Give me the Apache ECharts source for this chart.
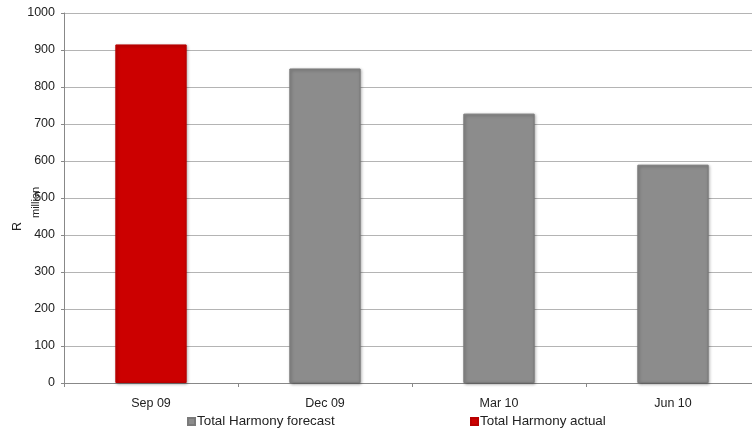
<!DOCTYPE html>
<html>
<head>
<meta charset="utf-8">
<script src="https://cdn.jsdelivr.net/npm/echarts@6/dist/echarts.min.js"></script>
<style>
  html, body { margin: 0; padding: 0; background: #fff; overflow: hidden; }
  #wrap { width: 752px; height: 432px; overflow: hidden; }
  #chart { width: 760px; height: 432px; }
</style>
</head>
<body>
<div id="wrap"><div id="chart"></div></div>
<script>
// Quarterly totals, R million
const categories = ['Sep 09', 'Dec 09', 'Mar 10', 'Jun 10'];
const forecastValues = [null, 850, 728, 590];
const actualValues = [915, null, null, null];
const yTicks = { min: 0, max: 1000, interval: 100 };
const seriesNames = ['Total Harmony forecast', 'Total Harmony actual'];

const FONT = 'Liberation Sans, Arial, sans-serif';
const FS = 12.5;
const chart = echarts.init(document.getElementById('chart'));

function barStyle(color, edge) {
  return {
    color: color,
    borderColor: edge,
    borderWidth: 1,
    shadowColor: 'rgba(0,0,0,0.35)',
    shadowBlur: 3,
    shadowOffsetX: 1,
    shadowOffsetY: 1
  };
}

const legendBase = {
  top: 410,
  itemWidth: 7, itemHeight: 7, itemGap: 4,
  icon: 'rect',
  textStyle: { color: '#222222', fontFamily: FONT, fontSize: 13.4, padding: [0, 0, 0, -3] }
};

chart.setOption({
  animation: false,
  backgroundColor: '#ffffff',
  grid: { left: 64, right: 0, top: 13, bottom: 49, containLabel: false },
  xAxis: {
    type: 'category',
    data: categories,
    axisLine: { lineStyle: { color: '#888888', width: 1 } },
    axisTick: { show: true, alignWithLabel: false, length: 4, lineStyle: { color: '#888888' } },
    axisLabel: { color: '#222222', fontFamily: FONT, fontSize: FS, margin: 14 }
  },
  yAxis: {
    type: 'value',
    min: yTicks.min,
    max: yTicks.max,
    interval: yTicks.interval,
    axisLine: { show: true, lineStyle: { color: '#888888', width: 1 } },
    axisTick: { show: true, length: 3, lineStyle: { color: '#888888' } },
    axisLabel: { color: '#222222', fontFamily: FONT, fontSize: FS, margin: 9, formatter: (v) => String(v) },
    splitLine: { lineStyle: { color: '#b4b4b4', width: 1 } }
  },
  legend: [
    Object.assign({ data: [seriesNames[0]], left: 182 }, legendBase),
    Object.assign({ data: [seriesNames[1]], left: 465 }, legendBase)
  ],
  series: [
    {
      name: seriesNames[0],
      type: 'bar',
      stack: 'total',
      data: forecastValues,
      barWidth: '41%',
      itemStyle: barStyle('#8c8c8c', '#7a7a7a')
    },
    {
      name: seriesNames[1],
      type: 'bar',
      stack: 'total',
      data: actualValues,
      barWidth: '41%',
      itemStyle: barStyle('#cc0000', '#b80000')
    }
  ],
  graphic: [
    {
      type: 'text', x: 11, y: 231, rotation: Math.PI / 2,
      style: { text: 'R', font: FS + 'px ' + FONT, fill: '#222222', textAlign: 'left', textVerticalAlign: 'top' }
    },
    {
      type: 'text', x: 30, y: 218, rotation: Math.PI / 2,
      style: { text: 'million', font: '11px ' + FONT, fill: '#222222', textAlign: 'left', textVerticalAlign: 'top' }
    }
  ]
});
</script>
</body>
</html>
